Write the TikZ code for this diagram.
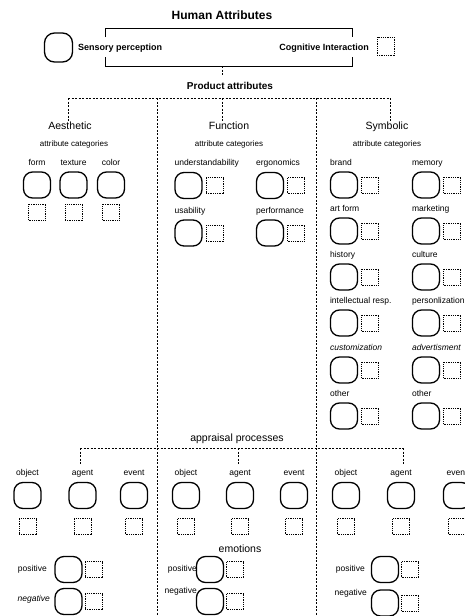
\documentclass[tikz,border=0pt]{standalone}
\usepackage{fontspec}
\setmainfont{Liberation Sans}
\newcommand{\attrR}[5]{%
  \node[rbox] (#1) at (#2,#3) {};
  \node[dbox, anchor=west] (#1d) at ([xshift=3pt]#1.east) {};
  \node[lbl, anchor=base west, #5] (#1t) at ([yshift=6pt]#1.north west) {#4};
}
\newcommand{\attrB}[5]{%
  \node[rbox] (#1) at (#2,#3) {};
  \node[dbox, anchor=north] (#1d) at ([yshift=-#5]#1.south) {};
  \node[lbl, anchor=base] (#1t) at ([yshift=6pt]#1.north) {#4};
}
\begin{document}
\begin{tikzpicture}[x=1pt,y=-1pt,
  rbox/.style={draw, line width=1.3pt, rounded corners=9pt, minimum width=27pt, minimum height=26pt, inner sep=0pt},
  dbox/.style={draw, dash pattern=on 1pt off 0.8pt, line width=0.8pt, minimum width=17pt, minimum height=16pt, inner sep=0pt},
  lbl/.style={font=\fontsize{8.5}{10}\selectfont, inner sep=0pt},
  head/.style={font=\fontsize{10.5}{12}\selectfont, inner sep=0pt},
  subhead/.style={font=\fontsize{8}{10}\selectfont, inner sep=0pt},
  btext/.style={font=\bfseries\fontsize{9}{11}\selectfont, inner sep=0pt},
  tree/.style={dash pattern=on 2pt off 1.5pt, line width=0.8pt},
  bracketline/.style={line width=0.9pt}]
\useasboundingbox (0,0) rectangle (465,616);
\clip (0,0) rectangle (465,616);
\fill[white] (0,0) rectangle (465,616);

% ---------- Human attributes ----------
\node[font=\bfseries\fontsize{12}{14}\selectfont, inner sep=0pt, anchor=base] (ha) at (222,19.5) {Human Attributes};
\node[draw, line width=1.3pt, rounded corners=10pt, minimum width=28pt, minimum height=29pt, inner sep=0pt] (sp) at (58.5,47.5) {};
\node[btext, anchor=base west] (spt) at (78,50.5) {Sensory perception};
\node[btext, anchor=base east] (cit) at (369,50.5) {Cognitive Interaction};
\node[dbox, minimum height=18pt] (ci) at (385.5,46) {};

\coordinate (bTLd) at (105,37);
\coordinate (bTL) at (105,28);
\coordinate (bTR) at (352,28);
\coordinate (bTRd) at (352,37);
\coordinate (bBLu) at (105,57);
\coordinate (bBL) at (105,66);
\coordinate (bBR) at (352,66);
\coordinate (bBRu) at (352,57);
\draw[bracketline] (bTLd) -- (bTL) -- (bTR) -- (bTRd);
\draw[bracketline] (bBLu) -- (bBL) -- (bBR) -- (bBRu);

\coordinate (bmid) at (222,66);
\coordinate (paTop) at (222,76);
\draw[tree] (bmid) -- (paTop);

% ---------- Product attributes ----------
\node[font=\bfseries\fontsize{10}{12}\selectfont, inner sep=0pt, anchor=base] (pa) at (230,89) {Product attributes};

\coordinate (h1L) at (68,98);
\coordinate (h1M) at (222,98);
\coordinate (h1R) at (390,98);
\coordinate (c1T) at (157,98);
\coordinate (c1B) at (157,616);
\coordinate (c2T) at (316,98);
\coordinate (c2B) at (316,616);
\draw[tree] (h1L) -- (h1R);
\draw[tree] (c1T) -- (c1B);
\draw[tree] (c2T) -- (c2B);

\node[head, anchor=base] (aes) at (70,129) {Aesthetic};
\node[head, anchor=base] (fun) at (229,129) {Function};
\node[head, anchor=base] (sym) at (387,129) {Symbolic};
\draw[tree] (h1L) -- (h1L |- aes.north);
\draw[tree] (h1M) -- (h1M |- fun.north);
\draw[tree] (h1R) -- (h1R |- sym.north);

\node[subhead, anchor=base] (aesc) at (74,146) {attribute categories};
\node[subhead, anchor=base] (func) at (229,146) {attribute categories};
\node[subhead, anchor=base] (symc) at (387,146) {attribute categories};

% Aesthetic items
\attrB{form}{37}{185}{form}{5pt}
\attrB{texture}{73.5}{185}{texture}{5pt}
\attrB{color}{111}{185}{color}{5pt}

% Function items
\attrR{und}{188.5}{185.5}{understandability}{}
\attrR{erg}{270}{185.5}{ergonomics}{}
\attrR{usa}{188.5}{233}{usability}{}
\attrR{perf}{270}{233}{performance}{}

% Symbolic items
\attrR{brand}{344}{185}{brand}{}
\attrR{memory}{426}{185}{memory}{}
\attrR{artform}{344}{231}{art form}{}
\attrR{marketing}{426}{231}{marketing}{}
\attrR{history}{344}{277}{history}{}
\attrR{culture}{426}{277}{culture}{}
\attrR{intel}{344}{323}{intellectual resp.}{}
\attrR{person}{426}{323}{personlization}{}
\attrR{custom}{344}{370}{customization}{font=\itshape\fontsize{8.5}{10}\selectfont}
\attrR{advert}{426}{370}{advertisment}{font=\itshape\fontsize{8.5}{10}\selectfont}
\attrR{otherA}{344}{416}{other}{}
\attrR{otherB}{426}{416}{other}{}

% ---------- appraisal processes ----------
\node[head, anchor=base] (ap) at (237,441) {appraisal processes};
\coordinate (h2L) at (80,448);
\coordinate (h2M) at (238,448);
\coordinate (h2R) at (403,448);
\coordinate (h2Lb) at (80,465);
\coordinate (h2Mb) at (238,465);
\coordinate (h2Rb) at (403,465);
\draw[tree] (h2L) -- (h2R);
\draw[tree] (h2L) -- (h2Lb);
\draw[tree] (h2M) -- (h2Mb);
\draw[tree] (h2R) -- (h2Rb);

\attrB{objA}{27.5}{495.5}{object}{9pt}
\attrB{agtA}{82.5}{495.5}{agent}{9pt}
\attrB{evtA}{134}{495.5}{event}{9pt}
\attrB{objB}{186}{495.5}{object}{9pt}
\attrB{agtB}{240}{495.5}{agent}{9pt}
\attrB{evtB}{294}{495.5}{event}{9pt}
\attrB{objC}{346}{495.5}{object}{9pt}
\attrB{agtC}{401}{495.5}{agent}{9pt}
\attrB{evtC}{457}{495.5}{event}{9pt}

% ---------- emotions ----------
\node[head, anchor=base] (emo) at (240,552) {emotions};

\node[rbox] (posA) at (68.5,569.5) {};
\node[dbox, anchor=west] (posAd) at ([xshift=2pt]posA.east) {};
\node[lbl, anchor=base east] (posAt) at (47,571) {positive};
\node[rbox] (negA) at (68.5,601.5) {};
\node[dbox, anchor=west] (negAd) at ([xshift=2pt]negA.east) {};
\node[lbl, anchor=base east, font=\itshape\fontsize{8.5}{10}\selectfont] (negAt) at (50,601) {negative};

\node[rbox] (posB) at (210,569.5) {};
\node[dbox, anchor=west] (posBd) at ([xshift=2pt]posB.east) {};
\node[lbl, anchor=base east] (posBt) at (197,571) {positive};
\node[rbox] (negB) at (210,601.5) {};
\node[dbox, anchor=west] (negBd) at ([xshift=2pt]negB.east) {};
\node[lbl, anchor=base east] (negBt) at (197,593) {negative};

\node[rbox] (posC) at (385,569.5) {};
\node[dbox, anchor=west] (posCd) at ([xshift=2pt]posC.east) {};
\node[lbl, anchor=base east] (posCt) at (365,571) {positive};
\node[rbox] (negC) at (385,603) {};
\node[dbox, anchor=west] (negCd) at ([xshift=2pt]negC.east) {};
\node[lbl, anchor=base east] (negCt) at (367,595) {negative};
\end{tikzpicture}
\end{document}
